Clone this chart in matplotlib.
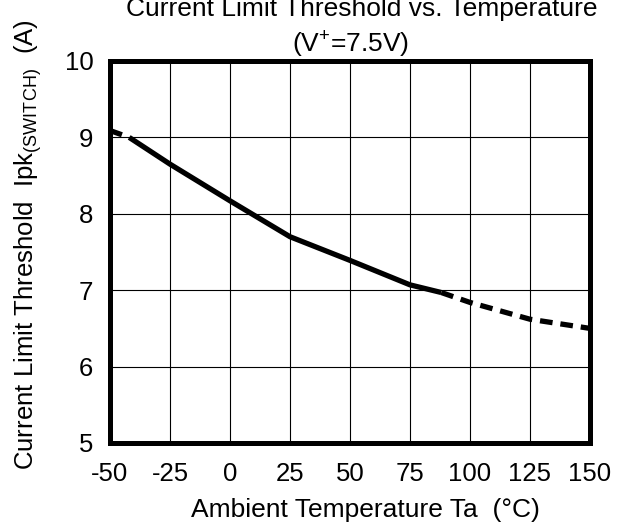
import matplotlib
matplotlib.use("Agg")
import matplotlib.pyplot as plt

plt.rcParams['font.family'] = ['Liberation Sans', 'DejaVu Sans']
plt.rcParams['mathtext.fontset'] = 'custom'
plt.rcParams['mathtext.rm'] = 'Liberation Sans'
plt.rcParams['mathtext.it'] = 'Liberation Sans'
plt.rcParams['axes.unicode_minus'] = False

# curve
temp_solid = [-42, -25, 0, 25, 50, 75, 88]
ipk_solid = [9.0, 8.65, 8.17, 7.7, 7.39, 7.07, 6.97]
temp_lo = [-50, -42]
ipk_lo = [9.09, 9.0]
temp_hi = [88, 100, 125, 150]
ipk_hi = [6.97, 6.84, 6.62, 6.5]

xticks = [-50, -25, 0, 25, 50, 75, 100, 125, 150]
yticks = [5, 6, 7, 8, 9, 10]

fig = plt.figure(figsize=(6.26, 5.27), dpi=100)
ax = fig.add_axes([110/626, 1-443/527, 480/626, 382/527])

ax.plot(temp_solid, ipk_solid, color='black', lw=3.8, solid_capstyle='butt', zorder=3)
ax.plot(temp_lo, ipk_lo, color='black', lw=3.8, dashes=(2.4, 1.5), zorder=3)
ax.plot(temp_hi, ipk_hi, color='black', lw=3.8, dashes=(2.4, 1.5), zorder=3)

ax.set_xlim(-50, 150)
ax.set_ylim(5, 10)
ax.set_xticks(xticks)
ax.set_yticks(yticks)
ax.grid(True, color='black', lw=0.8)
ax.tick_params(direction='in', length=0, labelsize=18.5)
ax.tick_params(axis='x', pad=14)
ax.tick_params(axis='y', pad=12)
for s in ax.spines.values():
    s.set_linewidth(3.6)
    s.set_zorder(4)

ax.set_xlabel('Ambient Temperature Ta  (°C)', fontsize=19)
ax.xaxis.set_label_coords((365-110)/480, -(498-443)/382)
ax.set_ylabel(r'Current Limit Threshold  Ipk$_{\mathrm{(SWITCH)}}$  (A)', fontsize=18.5)
ax.yaxis.set_label_coords((28-110)/480, (443-245)/382)
ax.yaxis.label.set_va('center')

# title sits partly above the top edge, as in the source image
fig.text(362/626, 1-16/527, 'Current Limit Threshold vs. Temperature', fontsize=19,
         ha='center', va='baseline')
fig.text(351/626, 1-53/527, r'(V$^{+}$=7.5V)', fontsize=19, ha='center', va='baseline')

fig.savefig('out.png', dpi=100)
